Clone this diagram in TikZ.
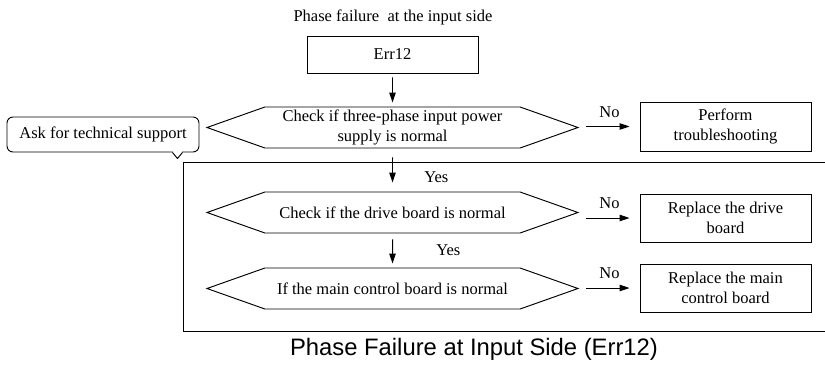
\documentclass[tikz,border=0pt]{standalone}
\usepackage{fontspec}
\setmainfont{Liberation Serif}
\newfontfamily\captionfont{Liberation Sans}
\usetikzlibrary{arrows.meta,shapes.symbols,positioning}

\begin{document}
\begin{tikzpicture}[x=1pt, y=-1pt, line width=0.95pt,
    txt/.style={font=\fontsize{16.5}{20}\selectfont},
    stepbox/.style={txt, draw, minimum width=171pt, minimum height=48pt, align=center, inner sep=0pt},
    checkbox/.style={txt, draw, signal, signal to=west and east, signal pointer angle=39,
        minimum width=371pt, minimum height=41pt, align=center, inner sep=0pt},
    arr/.style={-{Triangle[length=10pt, width=6.5pt]}}]

        \useasboundingbox (0,0) rectangle (825,365);

        % Title and fault code
        \node[txt] (title) at (393,17) {Phase failure\ \ at the input side};
        \node[stepbox, minimum height=37pt] (err) at (392.5,54.5) {Err12};

        % Checks down the middle
        \node[checkbox] (chk1) at (392.5,127.5) {Check if three-phase input power\\supply is normal};
        \node[checkbox] (chk2) at (392.5,212.5) {Check if the drive board is normal};
        \node[checkbox] (chk3) at (392.5,288.5) {If the main control board is normal};

        % Actions on the right
        \node[stepbox, minimum height=49pt] (act1) at (725.5,126.5) {Perform\\troubleshooting};
        \node[stepbox] (act2) at (725.5,218) {Replace the drive\\board};
        \node[stepbox] (act3) at (725.5,288) {Replace the main\\control board};

        % Support callout
        \node[txt, draw, rounded corners=6pt, minimum width=192pt, minimum height=35pt] (help) at (103,134.5) {Ask for technical support};
        \draw[white, line width=2.2pt] ([xshift=-26.5pt]help.south east) -- ([xshift=-17.5pt]help.south east);
        \draw[line join=miter] ([xshift=-27pt]help.south east) -- ++(5,6) -- ([xshift=-17pt]help.south east);

        % Frame round the board checks
        \draw (826,162) -| (183,331) -- (826,331);

        % Connectors
        \draw[arr, shorten <=4pt, shorten >=4pt] (err) -- (chk1);
        \draw[arr, shorten <=9pt, shorten >=9pt] (chk1) -- (chk2) node[txt, pos=0.66, right=28pt] {Yes};
        \draw[arr, shorten <=6pt, shorten >=4pt] (chk2) -- (chk3) node[txt, pos=0.5, right=40pt] {Yes};
        \foreach \i in {1,2,3} {
            \draw[arr, shorten <=7pt, shorten >=10pt] (chk\i.east |- act\i.west) -- (act\i.west)
                node[txt, midway, above=5.5pt] {No}; % No branch
        }

        \node[font=\captionfont\fontsize{23.8}{28}\selectfont] (caption) at (474,349) {Phase Failure at Input Side (Err12)};

    \end{tikzpicture}
\end{document}
